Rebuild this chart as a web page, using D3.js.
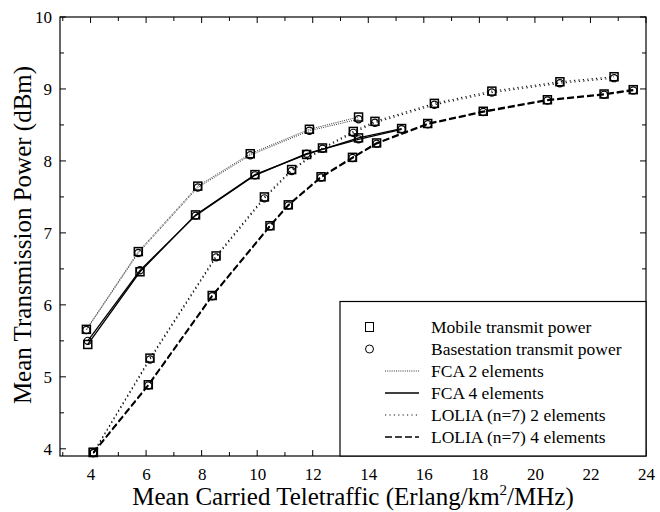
<!DOCTYPE html>
<html>
<head>
<meta charset="utf-8">
<script src="https://cdn.jsdelivr.net/npm/d3@7"></script>
<style>
  html, body { margin: 0; padding: 0; background: #fff; }
  svg { display: block; }
  text { font-family: "Liberation Serif", "Times New Roman", serif; fill: #000; }
</style>
</head>
<body>
<svg id="chart" width="660" height="512"></svg>
<script>
// Traffic (Erlang/km^2/MHz) and mean power (dBm) for each scheme.
const fca2X      = [3.85, 5.72, 7.86, 9.75, 11.88, 13.65];
const fca2Mobile = [5.66, 6.74, 7.65, 8.10, 8.44, 8.61];
const fca2Base   = [5.65, 6.72, 7.63, 8.08, 8.42, 8.58];

const fca4X      = [3.9, 5.78, 7.78, 9.92, 11.78, 13.65, 15.2];
const fca4Mobile = [5.45, 6.46, 7.25, 7.81, 8.09, 8.32, 8.45];
const fca4Base   = [5.50, 6.48, 7.24, 7.80, 8.10, 8.30, 8.44];

const lolia2X      = [4.1, 6.14, 8.52, 10.26, 11.24, 12.35, 13.46, 14.24, 16.38, 18.45, 20.9, 22.85];
const lolia2Mobile = [3.95, 5.26, 6.68, 7.50, 7.88, 8.18, 8.41, 8.55, 8.80, 8.97, 9.10, 9.17];
const lolia2Base   = [3.94, 5.24, 6.66, 7.48, 7.86, 8.17, 8.39, 8.53, 8.78, 8.95, 9.08, 9.15];

const lolia4X      = [4.1, 6.08, 8.38, 10.46, 11.12, 12.3, 13.43, 14.3, 16.14, 18.14, 20.45, 22.49, 23.54];
const lolia4Mobile = [3.95, 4.89, 6.13, 7.10, 7.39, 7.78, 8.05, 8.25, 8.52, 8.69, 8.85, 8.93, 8.99];
const lolia4Base   = [3.94, 4.88, 6.12, 7.09, 7.38, 7.77, 8.04, 8.24, 8.51, 8.68, 8.84, 8.92, 8.98];

const xTickValues = [4, 6, 8, 10, 12, 14, 16, 18, 20, 22, 24];
const yTickValues = [4, 5, 6, 7, 8, 9, 10];

const legendLabels = [
  "Mobile transmit power",
  "Basestation transmit power",
  "FCA 2 elements",
  "FCA 4 elements",
  "LOLIA (n=7) 2 elements",
  "LOLIA (n=7) 4 elements"
];

// Line styles per scheme
const styles = {
  fca2:   { dash: "1,1.2", width: 1.0, color: "#333" },
  fca4:   { dash: null,    width: 1.3, color: "#000" },
  lolia2: { dash: "1.2,3.2", width: 1.2, color: "#111" },
  lolia4: { dash: "7,3",   width: 1.6, color: "#000" }
};

const schemes = [
  { key: "fca2",   x: fca2X,   mobile: fca2Mobile,   base: fca2Base },
  { key: "fca4",   x: fca4X,   mobile: fca4Mobile,   base: fca4Base },
  { key: "lolia2", x: lolia2X, mobile: lolia2Mobile, base: lolia2Base },
  { key: "lolia4", x: lolia4X, mobile: lolia4Mobile, base: lolia4Base }
];

const svg = d3.select("#chart");
const plotLeft = 60, plotRight = 646, plotTop = 17, plotBottom = 456;

const x = d3.scaleLinear().domain([2.9, 24]).range([plotLeft, plotRight]);
const y = d3.scaleLinear().domain([3.9, 10]).range([plotBottom, plotTop]);

// Frame
svg.append("rect")
  .attr("x", plotLeft).attr("y", plotTop)
  .attr("width", plotRight - plotLeft).attr("height", plotBottom - plotTop)
  .attr("fill", "none").attr("stroke", "#000").attr("stroke-width", 1.2);

// Ticks on all four sides, pointing inward
const xMinor = d3.range(3, 24.01, 1);
const yMinor = d3.range(4, 10.01, 0.5);
const tickG = svg.append("g").attr("stroke", "#000").attr("stroke-width", 1);
xMinor.forEach(v => {
  const len = (v % 2 === 0) ? 6 : 4;
  tickG.append("line").attr("x1", x(v)).attr("x2", x(v)).attr("y1", plotBottom).attr("y2", plotBottom - len);
  tickG.append("line").attr("x1", x(v)).attr("x2", x(v)).attr("y1", plotTop).attr("y2", plotTop + len);
});
yMinor.forEach(v => {
  const len = Number.isInteger(v) ? 6 : 4;
  tickG.append("line").attr("y1", y(v)).attr("y2", y(v)).attr("x1", plotLeft).attr("x2", plotLeft + len);
  tickG.append("line").attr("y1", y(v)).attr("y2", y(v)).attr("x1", plotRight).attr("x2", plotRight - len);
});

// Tick labels via axes (tick lines hidden; the frame carries them)
const xAxis = d3.axisBottom(x).tickValues(xTickValues).tickSize(0).tickPadding(12).tickFormat(d3.format("d"));
const gx = svg.append("g").attr("transform", `translate(0,${plotBottom})`).call(xAxis);
gx.select(".domain").remove();
gx.selectAll("text").style("font-family", '"Liberation Serif", serif').style("font-size", "17px").attr("fill", "#000");

const yAxis = d3.axisLeft(y).tickValues(yTickValues).tickSize(0).tickPadding(8).tickFormat(d3.format("d"));
const gy = svg.append("g").attr("transform", `translate(${plotLeft},0)`).call(yAxis);
gy.select(".domain").remove();
gy.selectAll("text").style("font-family", '"Liberation Serif", serif').style("font-size", "17px").attr("fill", "#000");

// Axis titles
const xt = svg.append("text")
  .attr("x", 353).attr("y", 505)
  .attr("text-anchor", "middle").style("font-size", "25px");
xt.append("tspan").text("Mean Carried Teletraffic (Erlang/km");
xt.append("tspan").attr("dy", -10).style("font-size", "15px").text("2");
xt.append("tspan").attr("dy", 10).text("/MHz)");

svg.append("text")
  .attr("transform", `translate(31,235) rotate(-90)`)
  .attr("text-anchor", "middle").style("font-size", "25px")
  .text("Mean Transmission Power (dBm)");

// Curves
const line = d3.line().x(d => x(d[0])).y(d => y(d[1]));
const plot = svg.append("g");
schemes.forEach(s => {
  const st = styles[s.key];
  [s.mobile, s.base].forEach(vals => {
    const pts = s.x.map((xv, i) => [xv, vals[i]]);
    plot.append("path")
      .attr("d", line(pts))
      .attr("fill", "none")
      .attr("stroke", st.color)
      .attr("stroke-width", st.width)
      .attr("stroke-dasharray", st.dash);
  });
});

// Markers: squares for mobile, circles for basestation
const sq = 8;
schemes.forEach(s => {
  plot.selectAll(null).data(s.x.map((xv, i) => [xv, s.mobile[i]])).enter()
    .append("rect")
    .attr("x", d => x(d[0]) - sq / 2).attr("y", d => y(d[1]) - sq / 2)
    .attr("width", sq).attr("height", sq)
    .attr("fill", "none").attr("stroke", "#000").attr("stroke-width", 1.5);
  plot.selectAll(null).data(s.x.map((xv, i) => [xv, s.base[i]])).enter()
    .append("circle")
    .attr("cx", d => x(d[0])).attr("cy", d => y(d[1])).attr("r", 3.6)
    .attr("fill", "none").attr("stroke", "#000").attr("stroke-width", 1.2);
});

// Legend
const lg = svg.append("g");
lg.append("rect")
  .attr("x", 340).attr("y", 301.5).attr("width", plotRight - 340).attr("height", plotBottom - 301.5)
  .attr("fill", "#fff").attr("stroke", "#000").attr("stroke-width", 1.2);
const rowY = i => 327 + i * 22;
const textX = 431;
lg.append("rect").attr("x", 365.5).attr("y", rowY(0) - 4.5).attr("width", 8).attr("height", 9)
  .attr("fill", "none").attr("stroke", "#000").attr("stroke-width", 1);
lg.append("circle").attr("cx", 369.5).attr("cy", rowY(1)).attr("r", 4)
  .attr("fill", "none").attr("stroke", "#000").attr("stroke-width", 1);
["fca2", "fca4", "lolia2", "lolia4"].forEach((k, j) => {
  const st = styles[k];
  lg.append("line")
    .attr("x1", 385).attr("x2", 419).attr("y1", rowY(j + 2)).attr("y2", rowY(j + 2))
    .attr("stroke", st.color).attr("stroke-width", st.width).attr("stroke-dasharray", st.dash);
});
legendLabels.forEach((t, i) => {
  lg.append("text").attr("x", textX).attr("y", rowY(i) + 6)
    .style("font-size", "17.5px").text(t);
});
</script>
</body>
</html>
